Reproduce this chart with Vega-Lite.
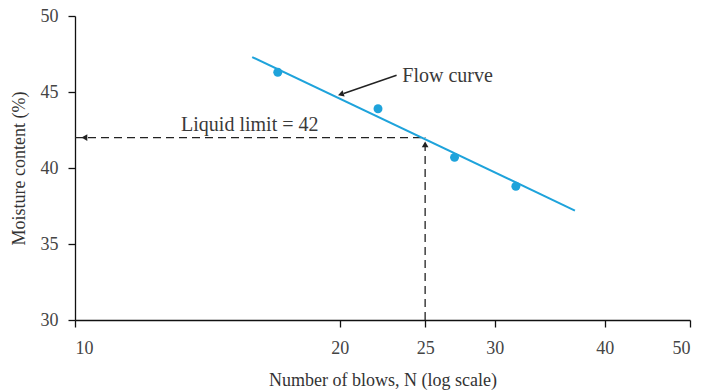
{
  "$schema": "https://vega.github.io/schema/vega-lite/v6.json",
  "autosize": {"type": "none"},
  "width": 615,
  "height": 304,
  "padding": {"left": 75, "top": 16, "right": 13, "bottom": 71},
  "background": "white",
  "config": {
    "view": {"stroke": null},
    "font": "Liberation Serif",
    "axis": {
      "grid": false,
      "domainColor": "#111",
      "domainWidth": 1.3,
      "tickColor": "#111",
      "tickWidth": 1.3,
      "tickSize": 7,
      "labelFont": "Liberation Serif",
      "labelFontSize": 18,
      "labelColor": "#444",
      "titleFont": "Liberation Serif",
      "titleFontSize": 18,
      "titleFontWeight": "normal",
      "titleColor": "#333"
    }
  },
  "datasets": {
    "measured": [
      {"blows": 17.0, "moisture": 46.3},
      {"blows": 22.1, "moisture": 43.9},
      {"blows": 27.0, "moisture": 40.7},
      {"blows": 31.7, "moisture": 38.8}
    ],
    "fit": [
      {"blows": 15.9, "moisture": 47.3},
      {"blows": 37.0, "moisture": 37.2}
    ],
    "guides": [
      {"x": 10, "x2": 25, "y": 42, "y2": 42},
      {"x": 25, "x2": 25, "y": 30, "y2": 42}
    ],
    "heads": [
      {"x": 10.25, "y": 42, "angle": 270},
      {"x": 25, "y": 41.55, "angle": 0},
      {"x": 20.05, "y": 44.85, "angle": 252.5}
    ],
    "pointer": [
      {"x": 23.2, "y": 46.1, "x2": 20.2, "y2": 44.9}
    ],
    "limitLabel": [
      {"x": 15.8, "y": 42.8, "text": "Liquid limit = 42"}
    ],
    "curveLabel": [
      {"x": 23.55, "y": 46.05, "text": "Flow curve"}
    ]
  },
  "layer": [
    {
      "data": {"name": "guides"},
      "mark": {"type": "rule", "strokeDash": [8, 5], "strokeWidth": 1.3, "color": "#222"},
      "encoding": {
        "x": {"field": "x", "type": "quantitative",
          "scale": {"type": "log", "domain": [10, 50], "nice": false},
          "axis": {"values": [10, 20, 25, 30, 40, 50], "title": "Number of blows, N (log scale)", "labelPadding": 12, "titlePadding": 14}},
        "x2": {"field": "x2"},
        "y": {"field": "y", "type": "quantitative",
          "scale": {"domain": [30, 50], "nice": false, "zero": false},
          "axis": {"values": [30, 35, 40, 45, 50], "title": "Moisture content (%)", "labelPadding": 10, "titlePadding": 12}},
        "y2": {"field": "y2"}
      }
    },
    {
      "data": {"name": "pointer"},
      "mark": {"type": "rule", "strokeWidth": 1.4, "color": "#222"},
      "encoding": {
        "x": {"field": "x", "type": "quantitative"},
        "x2": {"field": "x2"},
        "y": {"field": "y", "type": "quantitative"},
        "y2": {"field": "y2"}
      }
    },
    {
      "data": {"name": "heads"},
      "mark": {"type": "point", "shape": "triangle-up", "filled": true, "color": "#222", "size": 45, "opacity": 1},
      "encoding": {
        "x": {"field": "x", "type": "quantitative"},
        "y": {"field": "y", "type": "quantitative"},
        "angle": {"field": "angle", "type": "quantitative", "scale": null}
      }
    },
    {
      "data": {"name": "fit"},
      "mark": {"type": "line", "color": "#1ea3db", "strokeWidth": 2},
      "encoding": {
        "x": {"field": "blows", "type": "quantitative"},
        "y": {"field": "moisture", "type": "quantitative"}
      }
    },
    {
      "data": {"name": "measured"},
      "mark": {"type": "point", "shape": "circle", "filled": true, "color": "#1ea3db", "size": 80, "opacity": 1},
      "encoding": {
        "x": {"field": "blows", "type": "quantitative"},
        "y": {"field": "moisture", "type": "quantitative"}
      }
    },
    {
      "data": {"name": "limitLabel"},
      "mark": {"type": "text", "font": "Liberation Serif", "fontSize": 20, "color": "#3a3a3a", "baseline": "middle", "align": "center"},
      "encoding": {
        "x": {"field": "x", "type": "quantitative"},
        "y": {"field": "y", "type": "quantitative"},
        "text": {"field": "text"}
      }
    },
    {
      "data": {"name": "curveLabel"},
      "mark": {"type": "text", "font": "Liberation Serif", "fontSize": 20, "color": "#3a3a3a", "baseline": "middle", "align": "left"},
      "encoding": {
        "x": {"field": "x", "type": "quantitative"},
        "y": {"field": "y", "type": "quantitative"},
        "text": {"field": "text"}
      }
    }
  ]
}
